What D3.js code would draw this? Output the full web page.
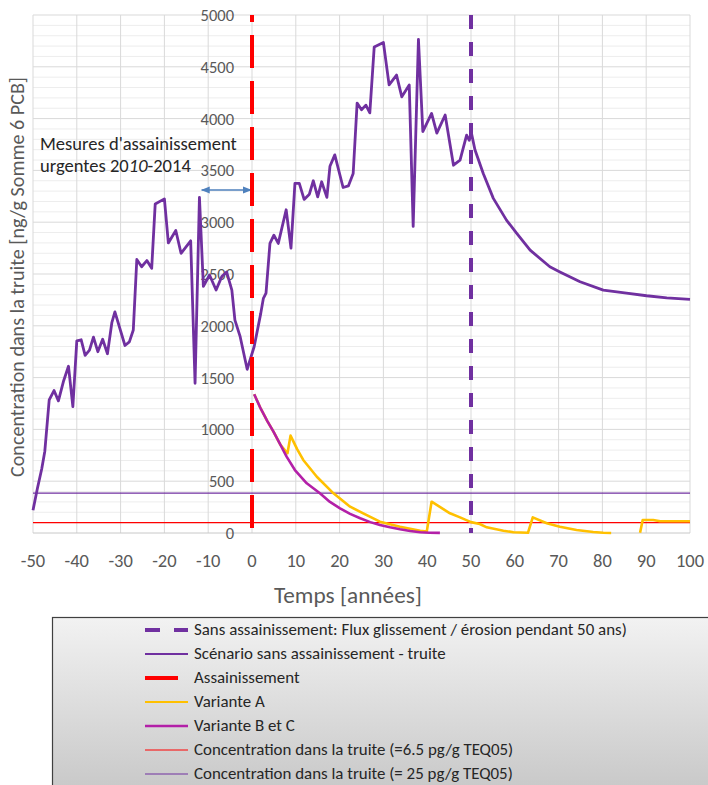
<!DOCTYPE html>
<html>
<head>
<meta charset="utf-8">
<script src="https://cdn.jsdelivr.net/npm/d3@7"></script>
<style>
  html, body { margin: 0; padding: 0; background: #fff; }
  svg { display: block; font-family: Carlito, Lato, "Open Sans", sans-serif; }
</style>
</head>
<body>
<svg id="chart" width="708" height="785"></svg>
<script>
// Scenario without remediation (trout), years and concentrations
const baseYears = [-50,-49,-48,-47.3,-46.3,-45.2,-44.2,-43,-41.9,-40.9,-40,-39,-38.1,-37.1,-36.2,-35.2,-34.1,-33,-32,-31.3,-29,-28,-27.1,-26.3,-25.2,-24,-22.9,-22.1,-20,-19.1,-17.4,-16.2,-14,-13,-12,-11.1,-9.7,-8.2,-6.9,-5.8,-4.6,-3.9,-2.7,-1.1,0.5,2,2.6,3.2,4.1,5,6,7.8,8.9,9.8,10.8,11.9,13.1,14,15,15.9,17.1,17.8,18.9,20.8,22,23.1,24,25,26,26.9,27.9,30,31.3,33,34.2,35.9,36.8,38,39,41,42.2,44.1,46,47.5,49,49.6,50.1,50.9,52.8,55.1,58.1,60.4,63.5,68,70.3,74.9,80.2,85.5,90.1,94.7,100];
const baseValues = [220,430,620,790,1285,1375,1275,1470,1610,1220,1855,1865,1715,1765,1890,1750,1870,1730,2030,2135,1810,1845,1960,2640,2570,2630,2555,3175,3225,2800,2920,2700,2820,1445,3240,2380,2490,2345,2475,2520,2345,2055,1895,1580,1800,2120,2265,2315,2795,2875,2795,3120,2750,3375,3375,3220,3270,3400,3245,3390,3240,3540,3650,3335,3350,3470,4150,4085,4130,4055,4690,4735,4325,4420,4210,4325,2960,4765,3875,4050,3860,4035,3550,3600,3840,3790,3860,3700,3470,3230,3020,2895,2730,2570,2520,2425,2345,2315,2290,2270,2255];

// Variante A (null marks a break in the line)
const varAYears = [0.5,2,3.5,4.9,6.5,8.1,8.8,10.3,11.7,14.8,18.6,22.4,25.4,29.2,33.8,38.4,39.9,41,45.2,47.5,50,52,53.6,57.4,59.7,63,64.1,67.3,70.3,74.1,77.9,80.2,82,85,88.6,89.2,91.6,93.2,100];
const varAValues = [1340,1200,1080,978,850,770,940,810,705,543,383,254,190,109,61,22,13,302,190,151,105,87,55,22,7,2,151,94,61,29,10,2,0,null,3,125,125,113,113];

// Variante B et C
const varBYears = [0.5,2,3.5,4.9,6.5,7.9,9.8,12.5,15.5,17.8,20.1,22.4,24.7,27,29.2,31.5,33.8,36.1,38.4,40.5,42.9];
const varBValues = [1340,1200,1080,978,850,737,608,480,383,300,238,185,142,105,77,55,36,20,7,3,1];

// Reference concentrations (horizontal lines)
const refRed = 100;     // = 6.5 pg/g TEQ05
const refPurple = 385;  // = 25 pg/g TEQ05

// Vertical markers
const remediationYear = 0;
const erosionEndYear = 50;

const xTicks = [-50,-40,-30,-20,-10,0,10,20,30,40,50,60,70,80,90,100];
const yTicks = [0,500,1000,1500,2000,2500,3000,3500,4000,4500,5000];
const yMinor = d3.range(0, 5001, 100);

const legendItems = [
  "Sans assainissement: Flux glissement / érosion pendant 50 ans)",
  "Scénario sans assainissement - truite",
  "Assainissement",
  "Variante A",
  "Variante B et C",
  "Concentration dans la truite (=6.5 pg/g TEQ05)",
  "Concentration dans la truite (= 25 pg/g TEQ05)"
];

const C = {
  purple: "#7030a0",
  red: "#ff0000",
  yellow: "#ffc000",
  magenta: "#b320a8",
  grid: "#d9d9d9",
  minor: "#ededed",
  text: "#595959",
  arrow: "#4f81bd"
};

const svg = d3.select("#chart");
const x = d3.scaleLinear().domain([-50, 100]).range([33, 690]);
const y = d3.scaleLinear().domain([0, 5000]).range([533, 15]);

// shrink/grow a text element so that it spans the given width
function fitWidth(sel, w) {
  sel.each(function () {
    const fs = parseFloat(this.getAttribute("font-size"));
    const len = this.getComputedTextLength();
    if (len > 0) this.setAttribute("font-size", (fs * w / len).toFixed(2));
  });
}

// gridlines
svg.append("g").selectAll("line").data(yMinor.filter(v => v % 500 !== 0)).join("line")
  .attr("x1", x(-50)).attr("x2", x(100))
  .attr("y1", d => y(d)).attr("y2", d => y(d))
  .attr("stroke", C.minor).attr("stroke-width", 1);
svg.append("g").selectAll("line").data(yTicks.filter(v => v > 0)).join("line")
  .attr("x1", x(-50)).attr("x2", x(100))
  .attr("y1", d => y(d)).attr("y2", d => y(d))
  .attr("stroke", C.grid).attr("stroke-width", 1);
svg.append("g").selectAll("line").data(xTicks).join("line")
  .attr("x1", d => x(d)).attr("x2", d => x(d))
  .attr("y1", y(0)).attr("y2", y(5000))
  .attr("stroke", C.grid).attr("stroke-width", 1);
svg.append("line")
  .attr("x1", x(-50)).attr("x2", x(100)).attr("y1", y(0)).attr("y2", y(0))
  .attr("stroke", "#c8c8c8").attr("stroke-width", 1);

// y tick labels sit beside the axis at year 0
svg.append("g").selectAll("text").data(yTicks).join("text")
  .attr("x", x(0) - 18).attr("y", d => y(d) + 6)
  .attr("text-anchor", "end").attr("font-size", 16.5).attr("fill", C.text)
  .text(d => d);

// x tick labels
svg.append("g").selectAll("text").data(xTicks).join("text")
  .attr("x", d => x(d)).attr("y", 567)
  .attr("text-anchor", "middle").attr("font-size", 18.5).attr("fill", C.text)
  .text(d => d);

// axis titles
svg.append("text").attr("x", 348).attr("y", 603)
  .attr("text-anchor", "middle").attr("font-size", 19).attr("fill", C.text)
  .text("Temps [années]").call(fitWidth, 148);
svg.append("text").attr("transform", "translate(24,277) rotate(-90)")
  .attr("text-anchor", "middle").attr("font-size", 17).attr("fill", C.text)
  .text("Concentration dans la truite [ng/g Somme 6 PCB]").call(fitWidth, 400);

// annotation
const ann = svg.append("text").attr("x", 40).attr("y", 150)
  .attr("font-size", 15).attr("fill", "#262626");
ann.append("tspan").text("Mesures d'assainissement");
fitWidth(ann, 197);
const annFs = ann.attr("font-size");
const ann2 = svg.append("text").attr("x", 40).attr("y", 172)
  .attr("font-size", annFs).attr("fill", "#262626");
ann2.append("tspan").text("urgentes 20");
ann2.append("tspan").attr("font-style", "italic").text("10");
ann2.append("tspan").text("-2014");

// double-headed arrow for 2010-2014
const defs = svg.append("defs");
defs.append("marker").attr("id", "ah").attr("viewBox", "0 0 10 10")
  .attr("refX", 9).attr("refY", 5).attr("markerWidth", 6).attr("markerHeight", 6)
  .attr("orient", "auto-start-reverse")
  .append("path").attr("d", "M0,1 L10,5 L0,9 Z").attr("fill", C.arrow);
svg.append("line")
  .attr("x1", x(-11.5)).attr("x2", x(-0.2)).attr("y1", 190).attr("y2", 190)
  .attr("stroke", C.arrow).attr("stroke-width", 1.5)
  .attr("marker-start", "url(#ah)").attr("marker-end", "url(#ah)");

// reference lines
svg.append("line").attr("x1", x(-50)).attr("x2", x(100))
  .attr("y1", y(refPurple)).attr("y2", y(refPurple))
  .attr("stroke", C.purple).attr("stroke-width", 1.2);
svg.append("line").attr("x1", x(-50)).attr("x2", x(100))
  .attr("y1", y(refRed)).attr("y2", y(refRed))
  .attr("stroke", C.red).attr("stroke-width", 1.2);

const line = d3.line()
  .defined(d => d[1] !== null)
  .x(d => x(d[0])).y(d => y(d[1]));

svg.append("path").datum(varAYears.map((t, i) => [t, varAValues[i]]))
  .attr("d", line).attr("fill", "none")
  .attr("stroke", C.yellow).attr("stroke-width", 2.6).attr("stroke-linejoin", "round");
svg.append("path").datum(varBYears.map((t, i) => [t, varBValues[i]]))
  .attr("d", line).attr("fill", "none")
  .attr("stroke", C.magenta).attr("stroke-width", 2.6).attr("stroke-linejoin", "round");
svg.append("path").datum(baseYears.map((t, i) => [t, baseValues[i]]))
  .attr("d", line).attr("fill", "none")
  .attr("stroke", C.purple).attr("stroke-width", 2.8).attr("stroke-linejoin", "round");

// vertical markers
svg.append("line").attr("x1", x(remediationYear)).attr("x2", x(remediationYear))
  .attr("y1", y(5000)).attr("y2", y(0))
  .attr("stroke", C.red).attr("stroke-width", 4)
  .attr("stroke-dasharray", "33,13").attr("stroke-dashoffset", 26);
svg.append("line").attr("x1", x(erosionEndYear)).attr("x2", x(erosionEndYear))
  .attr("y1", y(5000)).attr("y2", y(0))
  .attr("stroke", C.purple).attr("stroke-width", 4)
  .attr("stroke-dasharray", "14,13");

// legend
const grad = defs.append("linearGradient").attr("id", "lg")
  .attr("x1", 0).attr("x2", 0).attr("y1", 0).attr("y2", 1);
grad.append("stop").attr("offset", 0).attr("stop-color", "#f2f2f2");
grad.append("stop").attr("offset", 1).attr("stop-color", "#c4c4c4");
svg.append("rect").attr("x", 52.5).attr("y", 617.5).attr("width", 670).attr("height", 190)
  .attr("fill", "url(#lg)").attr("stroke", "#404040").attr("stroke-width", 1.2);

const rowY = d3.scalePoint().domain(d3.range(legendItems.length)).range([630, 774]);
const lg = svg.append("g");
const samples = [
  {c: C.purple, w: 4, dash: "15,14", x2: 188},
  {c: C.purple, w: 2.2, dash: null, x2: 188},
  {c: C.red, w: 4, dash: null, x2: 178},
  {c: C.yellow, w: 2.2, dash: null, x2: 188},
  {c: C.magenta, w: 2.6, dash: null, x2: 188},
  {c: C.red, w: 1.2, dash: null, x2: 188},
  {c: C.purple, w: 1.2, dash: null, x2: 188}
];
samples.forEach((s, i) => {
  lg.append("line").attr("x1", 145).attr("x2", s.x2)
    .attr("y1", rowY(i)).attr("y2", rowY(i))
    .attr("stroke", s.c).attr("stroke-width", s.w)
    .attr("stroke-dasharray", s.dash);
});
const lt = lg.selectAll("text").data(legendItems).join("text")
  .attr("x", 194).attr("y", (d, i) => rowY(i) + 5)
  .attr("font-size", 14).attr("fill", "#262626")
  .text(d => d);
fitWidth(lt.filter((d, i) => i === 0), 433);
const legFs = lt.filter((d, i) => i === 0).attr("font-size");
lt.attr("font-size", legFs);
</script>
</body>
</html>
